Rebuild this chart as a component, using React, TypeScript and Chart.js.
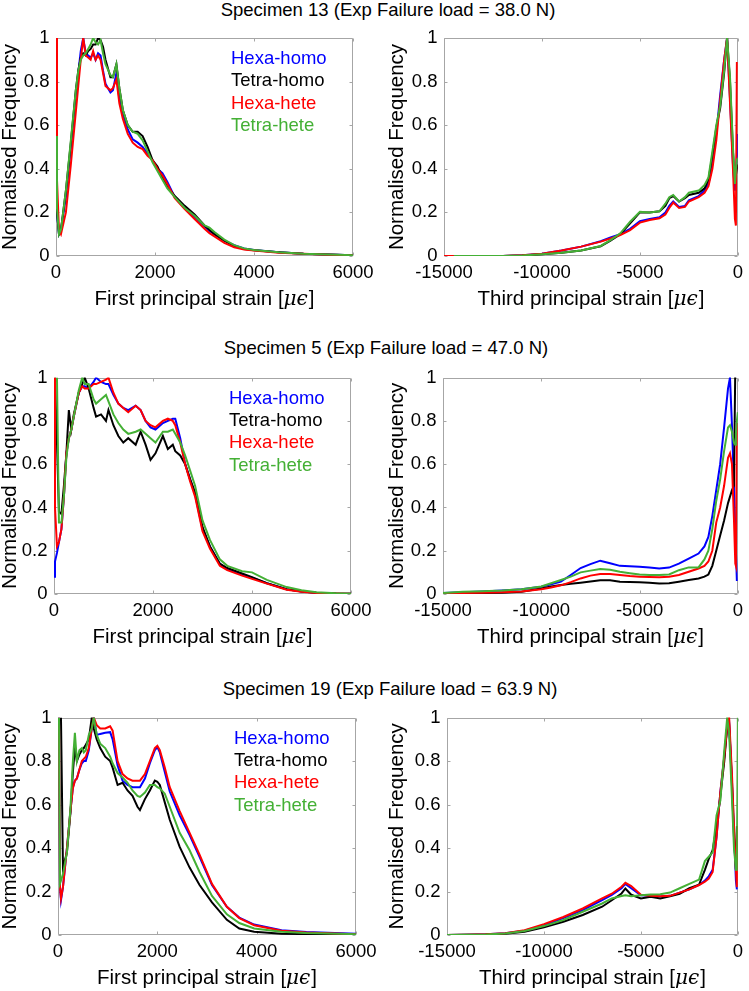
import React, { useEffect, useRef } from "react";
import { Chart, registerables } from "chart.js";

Chart.register(...registerables);

const FONT = "'Liberation Sans', Arial, 'DejaVu Sans', sans-serif";
const MATH_FONT = "'DejaVu Serif', 'Liberation Serif', serif";

// ---------- text ----------
const SERIES_NAMES = ["Hexa-homo", "Tetra-homo", "Hexa-hete", "Tetra-hete"];
const SERIES_COLORS = ["#0000ff", "#000000", "#ff0000", "#44b035"];
const ROW_TITLES = [
  "Specimen 13 (Exp Failure load = 38.0 N)",
  "Specimen 5 (Exp Failure load = 47.0 N)",
  "Specimen 19 (Exp Failure load = 63.9 N)",
];
const X_TITLE_FIRST = "First principal strain [";
const X_TITLE_THIRD = "Third principal strain [";
const X_TITLE_UNIT = "\u03bc\u03f5";
const X_TITLE_CLOSE = "]";
const Y_TITLE = "Normalised Frequency";

// ---------- ticks ----------
const FIRST_TICKS = [0, 2000, 4000, 6000];
const THIRD_TICKS = [-15000, -10000, -5000, 0];
const Y_TICKS = [0, 0.2, 0.4, 0.6, 0.8, 1];

// ---------- Specimen 13, first principal ----------
const S13_FIRST_X = [0, 20, 60, 100, 200, 300, 400, 450, 500, 550, 600, 650, 700, 750, 800, 850, 900, 950, 1000, 1100, 1150, 1220, 1280, 1350, 1450, 1550, 1650, 1750, 1850, 1950, 2050, 2150, 2250, 2400, 2600, 2800, 3000, 3100, 3200, 3400, 3600, 3800, 4000, 4500, 5000, 5500, 6000];
const S13_FIRST_HEXA_HOMO = [0.5, 0.2, 0.1, 0.12, 0.27, 0.5, 0.74, 0.84, 0.94, 1.0, 0.93, 0.92, 0.91, 0.93, 0.9, 0.93, 0.92, 0.85, 0.79, 0.75, 0.76, 0.84, 0.72, 0.65, 0.58, 0.535, 0.52, 0.5, 0.47, 0.44, 0.4, 0.38, 0.34, 0.27, 0.22, 0.18, 0.135, 0.115, 0.1, 0.07, 0.05, 0.035, 0.028, 0.017, 0.01, 0.007, 0.004];
const S13_FIRST_TETRA_HOMO = [0.5, 0.2, 0.1, 0.12, 0.3, 0.52, 0.76, 0.85, 0.91, 0.93, 0.92, 0.94, 0.95, 0.97, 0.97, 1.0, 0.99, 0.96, 0.9, 0.82, 0.82, 0.88, 0.77, 0.67, 0.6, 0.57, 0.57, 0.55, 0.5, 0.44, 0.41, 0.36, 0.32, 0.275, 0.23, 0.19, 0.14, 0.12, 0.1, 0.07, 0.045, 0.032, 0.026, 0.017, 0.01, 0.007, 0.004];
const S13_FIRST_HEXA_HETE = [1.0, 0.35, 0.12, 0.1, 0.2, 0.42, 0.66, 0.78, 0.9, 1.0, 0.92, 0.91, 0.9, 0.94, 0.9, 0.92, 0.9, 0.84, 0.78, 0.76, 0.77, 0.81, 0.7, 0.63, 0.56, 0.52, 0.5, 0.49, 0.46, 0.44, 0.4, 0.37, 0.33, 0.265, 0.215, 0.17, 0.125, 0.105, 0.09, 0.06, 0.04, 0.03, 0.025, 0.015, 0.01, 0.006, 0.003];
const S13_FIRST_TETRA_HETE = [0.55, 0.22, 0.1, 0.12, 0.3, 0.53, 0.76, 0.85, 0.9, 0.92, 0.93, 0.95, 0.97, 1.0, 0.98, 0.97, 0.99, 0.93, 0.88, 0.83, 0.82, 0.88, 0.77, 0.67, 0.6, 0.57, 0.56, 0.53, 0.48, 0.43, 0.39, 0.35, 0.31, 0.27, 0.22, 0.185, 0.14, 0.13, 0.11, 0.075, 0.05, 0.035, 0.028, 0.017, 0.01, 0.007, 0.004];

// ---------- Specimen 13, third principal ----------
const S13_THIRD_X = [-15000, -14500, -14000, -13000, -12000, -11000, -10000, -9000, -8000, -7000, -6500, -6000, -5500, -5000, -4500, -4000, -3700, -3500, -3300, -3000, -2700, -2500, -2000, -1700, -1500, -1300, -1100, -900, -700, -550, -400, -250, -150, -100, -50, 0];
const S13_THIRD_HEXA_HOMO = [null, 0, 0, 0, 0, 0.004, 0.01, 0.025, 0.043, 0.068, 0.085, 0.1, 0.125, 0.16, 0.17, 0.178, 0.2, 0.23, 0.25, 0.225, 0.23, 0.255, 0.275, 0.3, 0.33, 0.42, 0.56, 0.74, 0.9, 1.0, 0.72, 0.42, 0.3, 0.38, 0.45, 0.56];
const S13_THIRD_TETRA_HOMO = [null, 0, 0, 0, 0, 0.002, 0.008, 0.015, 0.025, 0.045, 0.07, 0.1, 0.15, 0.2, 0.2, 0.205, 0.23, 0.265, 0.275, 0.25, 0.265, 0.28, 0.29, 0.31, 0.35, 0.46, 0.59, 0.68, 0.84, 1.0, 0.8, 0.48, 0.33, 0.37, 0.4, 0.42];
const S13_THIRD_HEXA_HETE = [0, 0, 0, 0, 0, 0.004, 0.01, 0.025, 0.043, 0.066, 0.08, 0.096, 0.119, 0.153, 0.165, 0.173, 0.19, 0.22, 0.245, 0.22, 0.225, 0.25, 0.27, 0.29, 0.32, 0.4, 0.53, 0.72, 0.9, 1.0, 0.7, 0.4, 0.17, 0.14, 0.89, null];
const S13_THIRD_TETRA_HETE = [null, 0, 0, 0, 0, 0.002, 0.008, 0.015, 0.025, 0.046, 0.073, 0.104, 0.157, 0.203, 0.2, 0.205, 0.24, 0.27, 0.28, 0.25, 0.27, 0.29, 0.3, 0.326, 0.36, 0.48, 0.6, 0.69, 0.85, 1.0, 0.82, 0.5, 0.33, 0.4, 0.44, 0.45];

// ---------- Specimen 5, first principal ----------
const S5_FIRST_X = [0, 20, 60, 100, 150, 200, 250, 300, 350, 400, 500, 570, 620, 700, 800, 850, 950, 1050, 1100, 1200, 1300, 1400, 1500, 1650, 1750, 1850, 1950, 2050, 2200, 2300, 2400, 2450, 2550, 2650, 2750, 2850, 3000, 3150, 3350, 3500, 3800, 4000, 4300, 4700, 5000, 5300, 5700, 6000];
const S5_FIRST_HEXA_HOMO = [0.08, 0.15, 0.19, 0.24, 0.3, 0.45, 0.65, 0.72, 0.76, 0.82, 0.93, 0.96, 0.96, 0.95, 0.98, 1.0, 0.98, 0.97, 0.97, 0.92, 0.88, 0.86, 0.85, 0.87, 0.85, 0.8, 0.77, 0.76, 0.79, 0.8, 0.81, 0.81, 0.72, 0.6, 0.53, 0.46, 0.3, 0.22, 0.14, 0.115, 0.09, 0.075, 0.05, 0.022, 0.012, 0.006, 0.002, 0.001];
const S5_FIRST_TETRA_HOMO = [null, 1.0, 0.7, 0.38, 0.37, 0.5, 0.65, 0.85, 0.76, 0.83, 0.93, 0.97, 1.0, 0.95, 0.86, 0.82, 0.83, 0.8, 0.85, 0.78, 0.73, 0.7, 0.72, 0.69, 0.75, 0.69, 0.62, 0.65, 0.73, 0.67, 0.69, 0.66, 0.64, 0.6, 0.53, 0.47, 0.31, 0.22, 0.14, 0.12, 0.095, 0.078, 0.05, 0.022, 0.012, 0.006, 0.002, 0.001];
const S5_FIRST_HEXA_HETE = [1.0, 0.4, 0.22, 0.24, 0.3, 0.45, 0.65, 0.72, 0.76, 0.82, 0.93, 0.96, 0.95, 0.95, 0.97, 0.97, 0.98, 0.99, 1.0, 0.93, 0.88, 0.86, 0.84, 0.87, 0.85, 0.8, 0.78, 0.77, 0.8, 0.81, 0.8, 0.78, 0.7, 0.6, 0.52, 0.45, 0.29, 0.21, 0.13, 0.11, 0.085, 0.07, 0.048, 0.02, 0.01, 0.005, 0.002, 0.001];
const S5_FIRST_TETRA_HETE = [null, null, 1.0, 0.33, 0.33, 0.45, 0.63, 0.72, 0.76, 0.82, 0.94, 1.0, 0.97, 0.97, 0.9, 0.88, 0.9, 0.92, 0.89, 0.83, 0.79, 0.76, 0.74, 0.75, 0.76, 0.74, 0.72, 0.7, 0.75, 0.75, 0.76, 0.74, 0.7, 0.64, 0.57, 0.5, 0.34, 0.25, 0.16, 0.13, 0.105, 0.1, 0.065, 0.032, 0.017, 0.008, 0.003, 0.001];

// ---------- Specimen 5, third principal ----------
const S5_THIRD_X = [-15000, -14000, -13000, -12000, -11000, -10000, -9500, -9000, -8500, -8000, -7500, -7000, -6500, -6000, -5500, -5000, -4500, -4000, -3500, -3000, -2500, -2000, -1700, -1500, -1300, -1100, -900, -700, -500, -400, -300, -200, -130, -100, -50, 0];
const S5_THIRD_HEXA_HOMO = [0.005, 0.008, 0.012, 0.016, 0.022, 0.034, 0.045, 0.057, 0.088, 0.12, 0.138, 0.154, 0.142, 0.13, 0.128, 0.126, 0.122, 0.118, 0.122, 0.14, 0.164, 0.187, 0.22, 0.264, 0.36, 0.48, 0.6, 0.77, 0.95, 1.0, 0.78, 0.5, 0.3, 0.2, 0.06, null];
const S5_THIRD_TETRA_HOMO = [0.003, 0.004, 0.005, 0.006, 0.01, 0.025, 0.035, 0.042, 0.047, 0.052, 0.058, 0.064, 0.064, 0.057, 0.055, 0.054, 0.052, 0.049, 0.05, 0.057, 0.065, 0.072, 0.08, 0.09, 0.13, 0.2, 0.27, 0.34, 0.42, 0.45, 0.48, 0.5, 1.05, null, null, null];
const S5_THIRD_HEXA_HETE = [0.003, 0.005, 0.006, 0.008, 0.012, 0.022, 0.03, 0.04, 0.055, 0.072, 0.085, 0.092, 0.092, 0.088, 0.083, 0.08, 0.078, 0.077, 0.08, 0.088, 0.103, 0.118, 0.13, 0.15, 0.2, 0.33, 0.4, 0.5, 0.63, 0.65, 0.6, 0.35, 0.14, 0.13, 0.79, null];
const S5_THIRD_TETRA_HETE = [0.005, 0.01, 0.013, 0.016, 0.022, 0.035, 0.05, 0.065, 0.08, 0.1, 0.108, 0.115, 0.112, 0.103, 0.096, 0.09, 0.088, 0.088, 0.09, 0.11, 0.123, 0.123, 0.16, 0.2, 0.3, 0.43, 0.53, 0.66, 0.77, 0.78, 0.75, 0.7, 0.69, 0.74, 0.8, 0.84];

// ---------- Specimen 19, first principal ----------
const S19_FIRST_X = [0, 20, 40, 60, 100, 180, 250, 300, 340, 380, 430, 480, 520, 560, 620, 680, 720, 780, 850, 950, 1050, 1100, 1200, 1300, 1400, 1500, 1600, 1650, 1750, 1850, 1950, 2000, 2050, 2150, 2250, 2450, 2650, 2850, 3100, 3400, 3650, 3950, 4500, 5000, 6000];
const S19_FIRST_HEXA_HOMO = [null, 1.0, 0.22, 0.16, 0.22, 0.4, 0.57, 0.68, 0.71, 0.72, 0.76, 0.79, 0.8, 0.8, 0.85, 0.95, 1.0, 0.92, 0.925, 0.93, 0.933, 0.9, 0.78, 0.71, 0.69, 0.68, 0.68, 0.68, 0.72, 0.79, 0.85, 0.864, 0.84, 0.75, 0.66, 0.55, 0.46, 0.36, 0.23, 0.13, 0.08, 0.048, 0.022, 0.014, 0.006];
const S19_FIRST_TETRA_HOMO = [null, null, null, 1.0, 0.31, 0.38, 0.56, 0.75, 0.86, 0.8, 0.83, 0.85, 0.86, 0.875, 0.9, 1.0, 0.95, 0.9, 0.86, 0.82, 0.8, 0.77, 0.69, 0.7, 0.665, 0.64, 0.59, 0.575, 0.625, 0.665, 0.71, 0.705, 0.69, 0.61, 0.53, 0.405, 0.31, 0.23, 0.15, 0.07, 0.03, 0.015, 0.006, 0.004, 0.002];
const S19_FIRST_HEXA_HETE = [null, 1.0, 0.22, 0.168, 0.22, 0.4, 0.57, 0.675, 0.71, 0.72, 0.76, 0.8, 0.81, 0.82, 0.86, 0.95, 1.0, 0.965, 0.95, 0.95, 0.96, 0.94, 0.8, 0.74, 0.72, 0.71, 0.71, 0.71, 0.74, 0.8, 0.86, 0.87, 0.85, 0.77, 0.68, 0.57, 0.47, 0.37, 0.235, 0.13, 0.078, 0.045, 0.02, 0.012, 0.004];
const S19_FIRST_TETRA_HETE = [null, 1.0, 0.237, 0.25, 0.28, 0.38, 0.58, 0.8, 0.93, 0.8, 0.85, 0.86, 0.84, 0.85, 0.92, 0.95, 1.0, 0.92, 0.88, 0.86, 0.82, 0.79, 0.745, 0.725, 0.7, 0.665, 0.64, 0.635, 0.655, 0.69, 0.69, 0.68, 0.675, 0.65, 0.59, 0.47, 0.39, 0.29, 0.18, 0.095, 0.055, 0.03, 0.015, 0.009, 0.004];

// ---------- Specimen 19, third principal ----------
const S19_THIRD_X = [-15000, -14000, -13000, -12000, -11000, -10000, -9000, -8000, -7000, -6500, -6000, -5800, -5500, -5000, -4500, -4000, -3500, -3000, -2500, -2000, -1700, -1500, -1300, -1100, -900, -700, -550, -450, -300, -200, -100, -50, 0];
const S19_THIRD_HEXA_HOMO = [0, 0.001, 0.003, 0.008, 0.02, 0.045, 0.078, 0.115, 0.16, 0.185, 0.215, 0.235, 0.215, 0.183, 0.18, 0.177, 0.18, 0.195, 0.21, 0.23, 0.25, 0.27, 0.3, 0.45, 0.66, 0.82, 0.96, 0.98, 0.7, 0.48, 0.25, 0.21, null];
const S19_THIRD_TETRA_HOMO = [0, 0.001, 0.002, 0.006, 0.015, 0.035, 0.061, 0.092, 0.13, 0.16, 0.191, 0.214, 0.185, 0.168, 0.176, 0.168, 0.178, 0.19, 0.215, 0.232, 0.3, 0.35, 0.39, 0.5, 0.64, 0.8, 0.96, 0.97, 0.68, 0.45, 0.3, 0.5, null];
const S19_THIRD_HEXA_HETE = [0, 0.001, 0.003, 0.008, 0.022, 0.05, 0.083, 0.122, 0.168, 0.19, 0.222, 0.24, 0.225, 0.185, 0.18, 0.178, 0.18, 0.195, 0.21, 0.23, 0.245, 0.26, 0.29, 0.45, 0.66, 0.82, 0.96, 1.0, 0.73, 0.5, 0.3, 0.22, 0.5];
const S19_THIRD_TETRA_HETE = [0, 0.001, 0.002, 0.007, 0.018, 0.041, 0.069, 0.107, 0.145, 0.168, 0.179, 0.183, 0.178, 0.183, 0.186, 0.188, 0.195, 0.215, 0.235, 0.255, 0.34, 0.36, 0.38, 0.55, 0.62, 0.85, 1.0, 0.93, 0.62, 0.4, 0.3, 0.3, 1.0];

// ---------- layout ----------
type Box = { x: number; y: number; w: number; h: number };
type Area = { l: number; t: number; r: number; b: number };
type PanelDef = {
  xs: number[];
  series: (number | null)[][];
  kind: "first" | "third";
  box: Box;
  area: Area;
  legend: boolean;
};

const AXIS_COLOR = "#a6a6a6";
const TICK_LEN = 3;

const PANELS: PanelDef[] = [
  { xs: S13_FIRST_X, series: [S13_FIRST_HEXA_HOMO, S13_FIRST_TETRA_HOMO, S13_FIRST_HEXA_HETE, S13_FIRST_TETRA_HETE], kind: "first", box: { x: 0, y: 20, w: 385, h: 295 }, area: { l: 56, t: 38, r: 353, b: 256 }, legend: true },
  { xs: S13_THIRD_X, series: [S13_THIRD_HEXA_HOMO, S13_THIRD_TETRA_HOMO, S13_THIRD_HEXA_HETE, S13_THIRD_TETRA_HETE], kind: "third", box: { x: 380, y: 20, w: 369, h: 295 }, area: { l: 444, t: 38, r: 742, b: 256 }, legend: false },
  { xs: S5_FIRST_X, series: [S5_FIRST_HEXA_HOMO, S5_FIRST_TETRA_HOMO, S5_FIRST_HEXA_HETE, S5_FIRST_TETRA_HETE], kind: "first", box: { x: 0, y: 360, w: 385, h: 295 }, area: { l: 54, t: 377, r: 351, b: 594 }, legend: true },
  { xs: S5_THIRD_X, series: [S5_THIRD_HEXA_HOMO, S5_THIRD_TETRA_HOMO, S5_THIRD_HEXA_HETE, S5_THIRD_TETRA_HETE], kind: "third", box: { x: 380, y: 360, w: 369, h: 295 }, area: { l: 443, t: 377, r: 741, b: 594 }, legend: false },
  { xs: S19_FIRST_X, series: [S19_FIRST_HEXA_HOMO, S19_FIRST_TETRA_HOMO, S19_FIRST_HEXA_HETE, S19_FIRST_TETRA_HETE], kind: "first", box: { x: 0, y: 700, w: 385, h: 291 }, area: { l: 58, t: 717, r: 356, b: 935 }, legend: true },
  { xs: S19_THIRD_X, series: [S19_THIRD_HEXA_HOMO, S19_THIRD_TETRA_HOMO, S19_THIRD_HEXA_HETE, S19_THIRD_TETRA_HETE], kind: "third", box: { x: 380, y: 700, w: 369, h: 291 }, area: { l: 447, t: 717, r: 743, b: 935 }, legend: false },
];

const TITLE_CENTERS = [
  { x: 388, y: 9.5 },
  { x: 386, y: 347.5 },
  { x: 390, y: 689 },
];

function makeFramePlugin(def: PanelDef) {
  return {
    id: "matlabFrame",
    beforeDatasetsDraw(chart: any) {
      const { ctx, chartArea: a } = chart;
      const xs = chart.scales.x;
      const ys = chart.scales.y;
      const L = Math.round(a.left) + 0.5;
      const R = Math.round(a.right) - 0.5;
      const T = Math.round(a.top) + 0.5;
      const B = Math.round(a.bottom) - 0.5;
      ctx.save();
      ctx.strokeStyle = AXIS_COLOR;
      ctx.lineWidth = 1;
      ctx.beginPath();
      ctx.rect(L, T, R - L, B - T);
      for (const t of xs.ticks) {
        const p = Math.round(xs.getPixelForValue(t.value)) + 0.5;
        ctx.moveTo(p, B);
        ctx.lineTo(p, B - TICK_LEN);
        ctx.moveTo(p, T);
        ctx.lineTo(p, T + TICK_LEN);
      }
      for (const t of ys.ticks) {
        const p = Math.round(ys.getPixelForValue(t.value)) + 0.5;
        ctx.moveTo(L, p);
        ctx.lineTo(L + TICK_LEN, p);
        ctx.moveTo(R, p);
        ctx.lineTo(R - TICK_LEN, p);
      }
      ctx.stroke();
      ctx.restore();
    },
    afterDatasetsDraw(chart: any) {
      const { ctx, chartArea: a } = chart;
      ctx.save();
      // x-axis title with italic math unit
      const head = def.kind === "first" ? X_TITLE_FIRST : X_TITLE_THIRD;
      const plainFont = `20.5px ${FONT}`;
      const mathFont = `italic 20px ${MATH_FONT}`;
      ctx.font = plainFont;
      const w1 = ctx.measureText(head).width;
      const w3 = ctx.measureText(X_TITLE_CLOSE).width;
      ctx.font = mathFont;
      const w2 = ctx.measureText(X_TITLE_UNIT).width + 1;
      const total = w1 + w2 + w3;
      let x = (a.left + a.right) / 2 - total / 2;
      const y = a.bottom + 43.5;
      ctx.fillStyle = "#000";
      ctx.textAlign = "left";
      ctx.textBaseline = "middle";
      ctx.font = plainFont;
      ctx.fillText(head, x, y);
      x += w1;
      ctx.font = mathFont;
      ctx.fillText(X_TITLE_UNIT, x, y);
      x += w2;
      ctx.font = plainFont;
      ctx.fillText(X_TITLE_CLOSE, x, y);
      // legend
      if (def.legend) {
        ctx.font = `18.5px ${FONT}`;
        SERIES_NAMES.forEach((name, i) => {
          ctx.fillStyle = SERIES_COLORS[i];
          ctx.fillText(name, a.right - 122, a.top + 21 + i * 22.3);
        });
      }
      ctx.restore();
    },
  };
}

function Panel({ def }: { def: PanelDef }) {
  const ref = useRef<HTMLCanvasElement | null>(null);
  useEffect(() => {
    if (!ref.current) return;
    const { box, area } = def;
    const isFirst = def.kind === "first";
    const xTicks = isFirst ? FIRST_TICKS : THIRD_TICKS;
    const xHeight = box.y + box.h - area.b;
    const yWidth = area.l - box.x;
    const yTitlePad = isFirst ? 0 : 7.25;
    const orders = [4, 3, 2, 1];
    const chart = new Chart(ref.current, {
      type: "line",
      data: {
        datasets: def.series.map((ys, i) => ({
          label: SERIES_NAMES[i],
          data: def.xs.map((x, j) => ({ x, y: ys[j] })),
          borderColor: SERIES_COLORS[i],
          backgroundColor: SERIES_COLORS[i],
          borderWidth: 2,
          pointRadius: 0,
          tension: 0,
          fill: false,
          spanGaps: false,
          order: orders[i],
        })),
      },
      options: {
        responsive: false,
        animation: false,
        devicePixelRatio: 1,
        events: [],
        layout: {
          padding: { left: 0, top: area.t - box.y, right: box.x + box.w - area.r, bottom: 0 },
        },
        plugins: {
          legend: { display: false },
          tooltip: { enabled: false },
          title: { display: false },
        },
        scales: {
          x: {
            type: "linear",
            min: isFirst ? 0 : -15000,
            max: isFirst ? 6000 : 0,
            afterBuildTicks: (s: any) => {
              s.ticks = xTicks.map((v) => ({ value: v }));
            },
            afterFit: (s: any) => {
              s.height = xHeight;
            },
            grid: { display: false, drawTicks: false },
            border: { display: false },
            ticks: {
              padding: 6,
              color: "#000",
              autoSkip: false,
              maxRotation: 0,
              minRotation: 0,
              font: { family: FONT, size: 18.5 },
              callback: (v: any) => String(v),
            },
            title: { display: false },
          },
          y: {
            type: "linear",
            min: 0,
            max: 1,
            afterBuildTicks: (s: any) => {
              s.ticks = Y_TICKS.map((v) => ({ value: v }));
            },
            afterFit: (s: any) => {
              s.width = yWidth;
            },
            grid: { display: false, drawTicks: false },
            border: { display: false },
            ticks: {
              padding: 6.5,
              color: "#000",
              font: { family: FONT, size: 18.5 },
              callback: (v: any) => String(v),
            },
            title: {
              display: true,
              text: Y_TITLE,
              color: "#000",
              font: { family: FONT, size: 20.5, lineHeight: 1 },
              padding: { top: yTitlePad, bottom: 0 },
            },
          },
        },
      },
      plugins: [makeFramePlugin(def)],
    } as any);
    return () => chart.destroy();
  }, [def]);
  return (
    <div style={{ position: "absolute", left: def.box.x, top: def.box.y, width: def.box.w, height: def.box.h }}>
      <canvas ref={ref} width={def.box.w} height={def.box.h} style={{ display: "block", width: def.box.w, height: def.box.h }} />
    </div>
  );
}

export default function App() {
  return (
    <div style={{ position: "absolute", left: 0, top: 0, width: 749, height: 991, background: "#fff", overflow: "hidden" }}>
      {ROW_TITLES.map((t, i) => (
        <div
          key={t}
          style={{
            position: "absolute",
            left: TITLE_CENTERS[i].x,
            top: TITLE_CENTERS[i].y - 11,
            transform: "translateX(-50%)",
            whiteSpace: "nowrap",
            fontFamily: FONT,
            fontSize: 18.5,
            lineHeight: "22px",
            color: "#000",
          }}
        >
          {t}
        </div>
      ))}
      {PANELS.map((p, i) => (
        <Panel key={i} def={p} />
      ))}
    </div>
  );
}
